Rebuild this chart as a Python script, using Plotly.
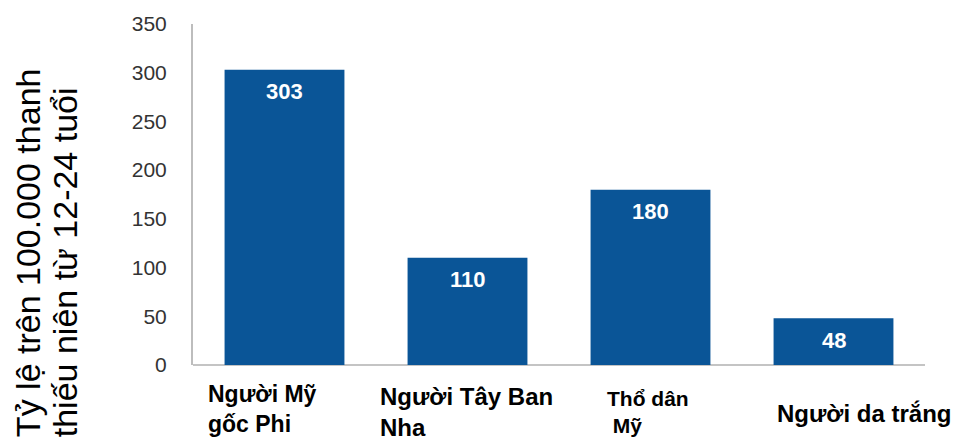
import plotly.graph_objects as go

categories = ["Người Mỹ gốc Phi", "Người Tây Ban Nha", "Thổ dân Mỹ", "Người da trắng"]
values = [303, 110, 180, 48]
cat_labels = ["Người Mỹ<br>gốc Phi", "Người Tây Ban<br>Nha", "Thổ dân<br> Mỹ", "Người da trắng"]
tick_vals = [0, 50, 100, 150, 200, 250, 300, 350]
y_title_lines = ["Tỷ lệ trên 100.000 thanh", "thiếu niên từ 12-24 tuổi"]

FONT = "Liberation Sans, Arial, sans-serif"
BAR = "#0A5597"

fig = go.Figure()
fig.add_trace(go.Bar(
    x=categories, y=values, marker_color=BAR, marker_line_width=0,
    width=0.655, hoverinfo="skip",
))

# value labels inside bars
for c, v in zip(categories, values):
    fig.add_annotation(x=c, y=v, xref="x", yref="y", text=f"<b>{v}</b>",
                       showarrow=False, yanchor="middle", yshift=-22,
                       font=dict(family=FONT, size=22, color="white"))

# category labels (irregular slide layout)
label_cfg = [
    dict(xshift=-79, y=-0.13, size=23),
    dict(xshift=-90, y=-0.138, size=24),
    dict(xshift=-46, y=-0.137, size=21),
    dict(xshift=-59, y=-0.143, size=24),
]
for c, t, cfg in zip(categories, cat_labels, label_cfg):
    fig.add_annotation(x=c, y=cfg["y"], xref="x", yref="paper", text=f"<b>{t}</b>",
                       showarrow=False, xanchor="left", yanchor="middle", align="left",
                       xshift=cfg["xshift"],
                       font=dict(family=FONT, size=cfg["size"], color="black"))

# y-axis title (two rotated lines, left-aligned at the bottom)
for line, xp in zip(y_title_lines, [-0.225, -0.175]):
    fig.add_annotation(x=xp, y=-0.218, xref="paper", yref="paper", text=line,
                       showarrow=False, textangle=-90, xanchor="center", yanchor="bottom",
                       font=dict(family=FONT, size=34, color="black"))

fig.update_layout(
    width=953, height=441,
    margin=dict(l=193, r=28, t=22, b=76),
    paper_bgcolor="white", plot_bgcolor="white",
    showlegend=False, bargap=0.345,
    xaxis=dict(range=[-0.5, 3.5], showticklabels=False, showgrid=False,
               zeroline=False, showline=False, ticks=""),
    yaxis=dict(range=[0, 350], tickvals=tick_vals, showgrid=False,
               zeroline=True, zerolinecolor="#c4c4c4", zerolinewidth=2,
               showline=True, linecolor="#bdbdbd", linewidth=2, ticks="",
               ticklabelstandoff=20,
               tickfont=dict(family=FONT, size=21, color="#333333")),
)

fig.write_html("out.html")
